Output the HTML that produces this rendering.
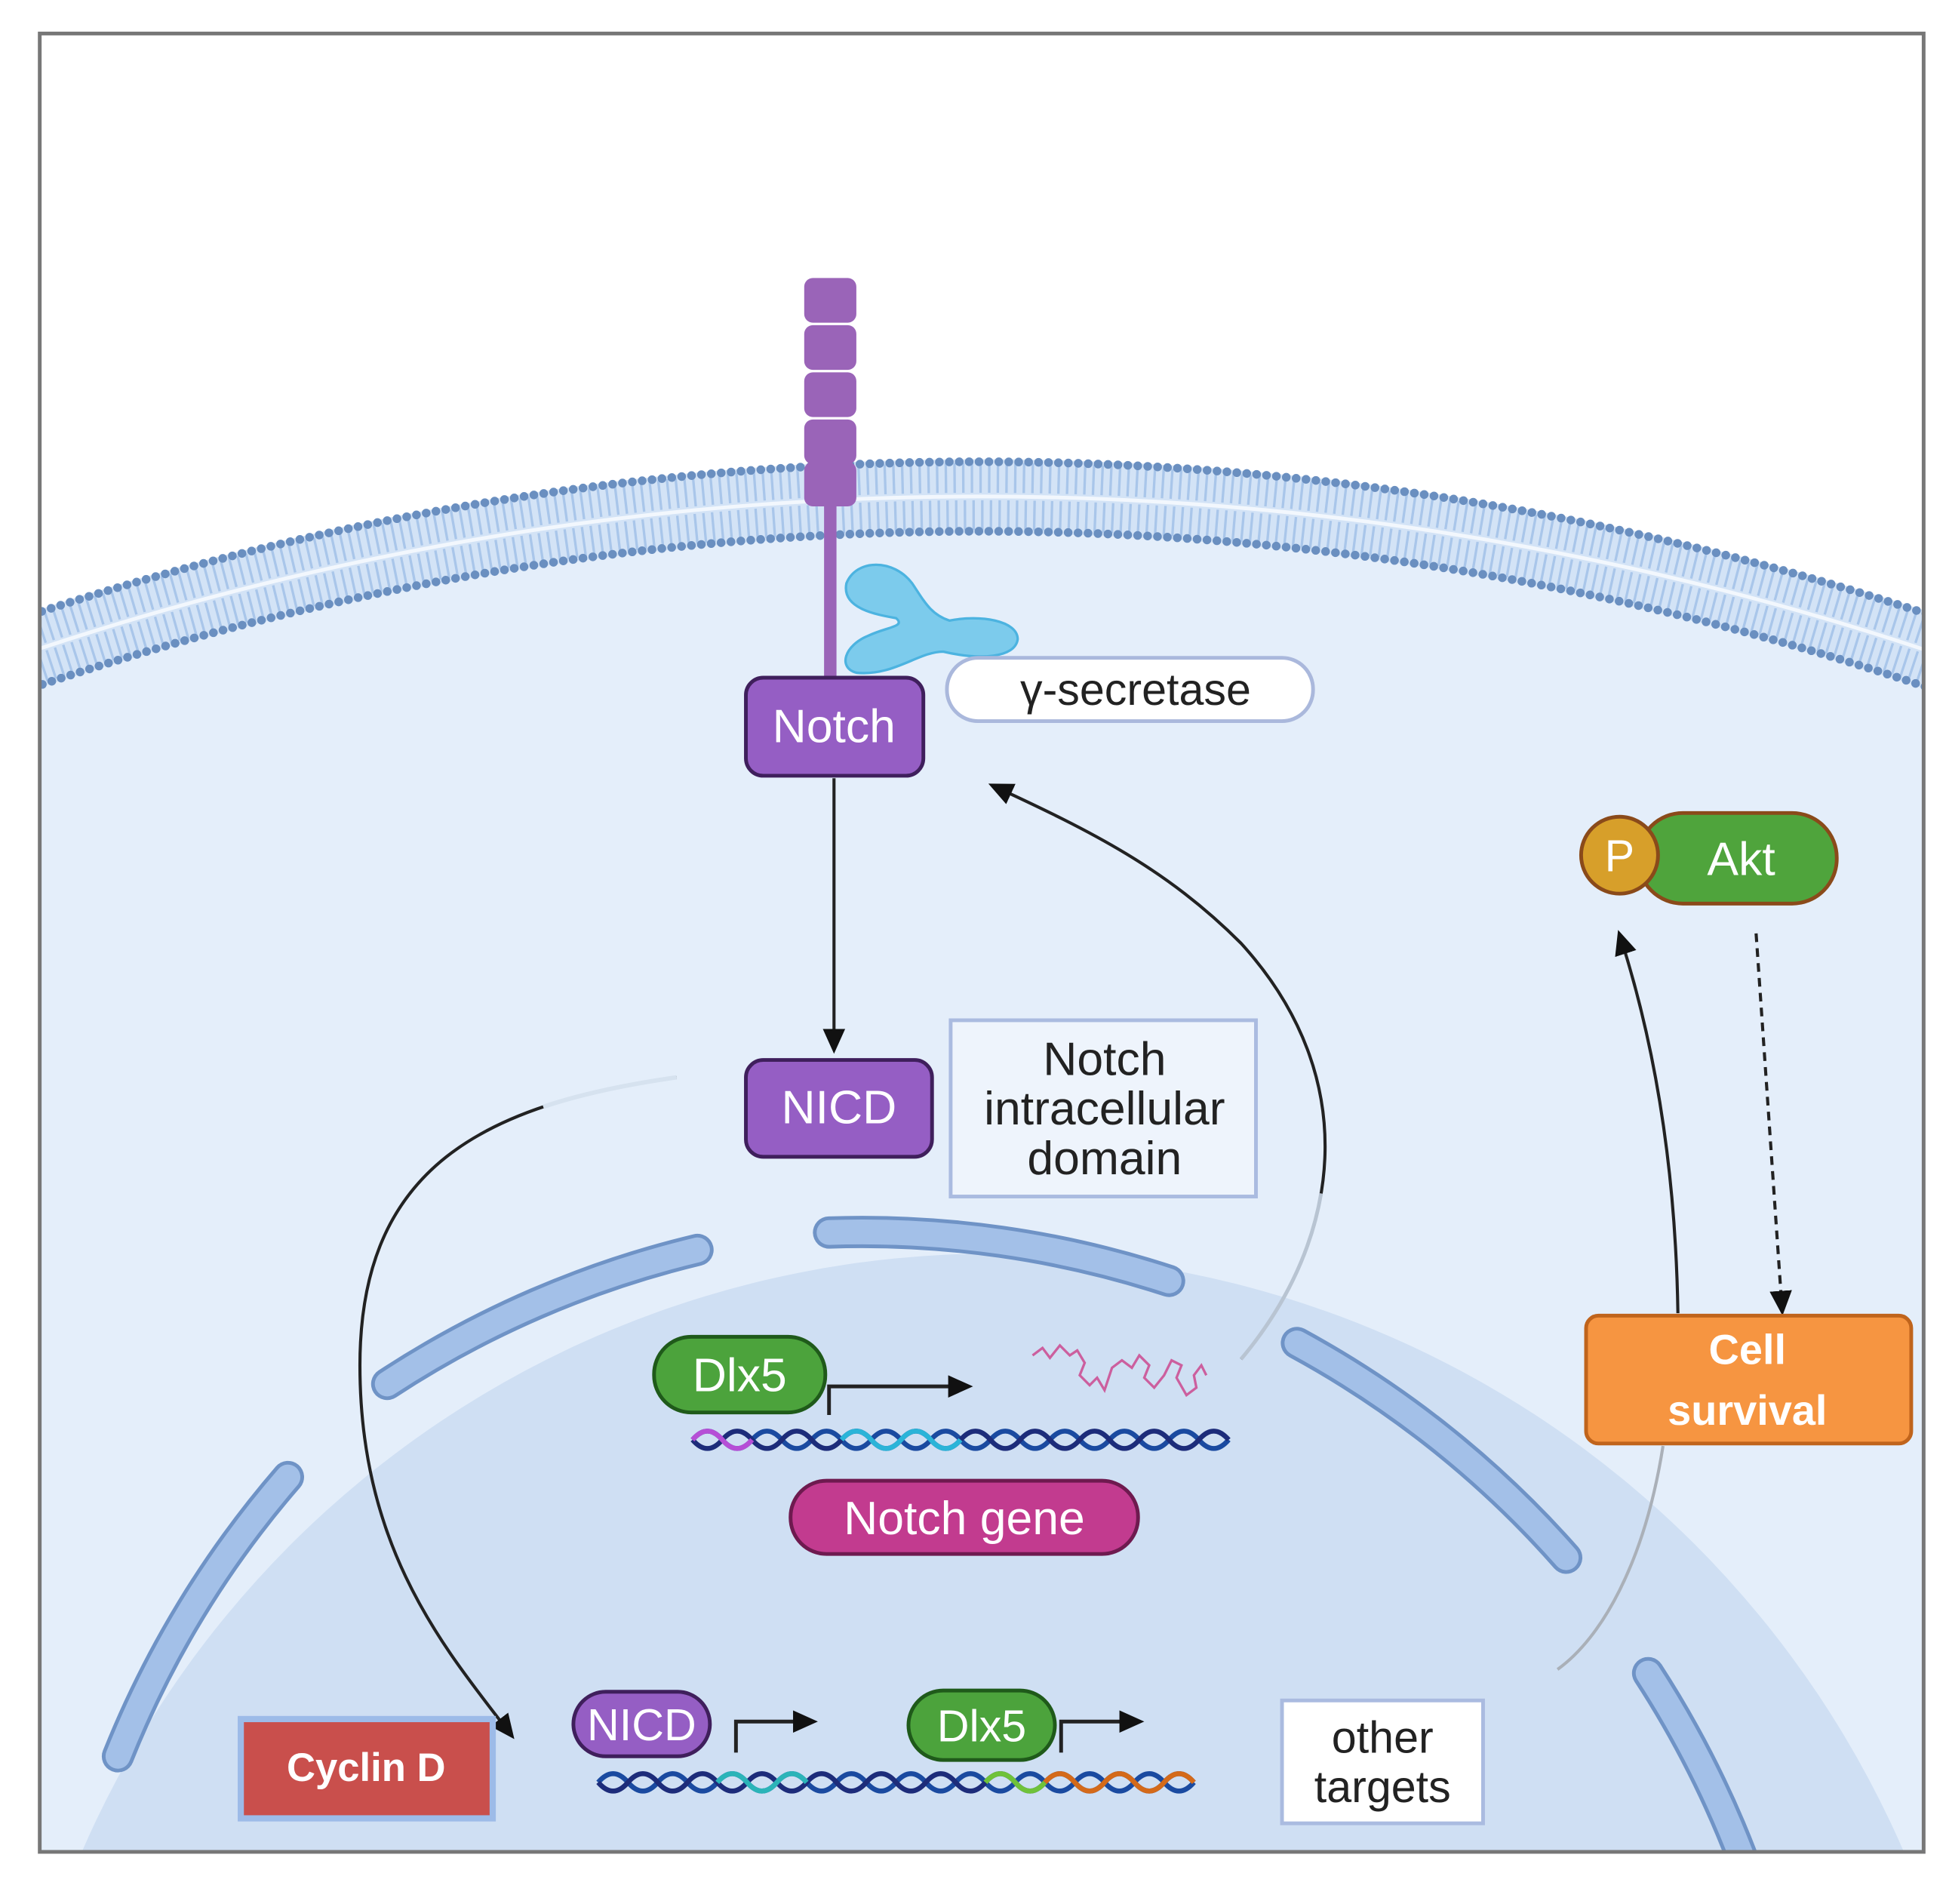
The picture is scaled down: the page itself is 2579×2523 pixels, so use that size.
<!DOCTYPE html>
<html><head><style>html,body{margin:0;padding:0;background:#fff;overflow:hidden;width:2579px;height:2523px}svg{display:block}</style></head><body>
<svg width="2579" height="2523" viewBox="0 0 1568 1534" xmlns="http://www.w3.org/2000/svg" font-family="Liberation Sans, sans-serif">
<defs>
<clipPath id="fr"><rect x="33" y="28" width="1516" height="1463"/></clipPath>
<marker id="ah2" markerWidth="20" markerHeight="18" refX="16" refY="9" orient="auto" markerUnits="userSpaceOnUse"><path d="M0,0 L20,9 L0,18 Z" fill="#111"/></marker>
</defs>
<rect x="0" y="0" width="1568" height="1534" fill="#fff"/>
<g clip-path="url(#fr)">
<circle cx="790" cy="2805" r="2375" fill="#e4eefa"/>
<circle cx="790" cy="2805" r="2405" fill="none" stroke="#d3e3f6" stroke-width="60"/>
<circle cx="790" cy="2805" r="2420" fill="none" stroke="#a9c6ea" stroke-width="24" stroke-dasharray="2 5"/>
<circle cx="790" cy="2805" r="2390" fill="none" stroke="#a9c6ea" stroke-width="24" stroke-dasharray="2 5"/>
<circle cx="790" cy="2805" r="2405" fill="none" stroke="#f2f7fd" stroke-width="3"/>
<circle cx="790" cy="2805" r="2433" fill="none" stroke="#6a8fc0" stroke-width="7" stroke-linecap="round" stroke-dasharray="0 8"/>
<circle cx="790" cy="2805" r="2377" fill="none" stroke="#6a8fc0" stroke-width="7" stroke-linecap="round" stroke-dasharray="0 8"/>
<circle cx="800" cy="1810" r="800" fill="#cfdff3"/>
<g fill="none" stroke-linecap="round">
<g stroke="#6f93c6" stroke-width="26">
<path d="M95,1415 A795,795 0 0 1 232,1190"/>
<path d="M312,1115 A795,795 0 0 1 562,1007"/>
<path d="M668,993 A795,795 0 0 1 942,1032"/>
<path d="M1045,1082 A795,795 0 0 1 1262,1255"/>
<path d="M1328,1348 A795,795 0 0 1 1405,1500"/>
</g>
<g stroke="#a3c0e8" stroke-width="20">
<path d="M95,1415 A795,795 0 0 1 232,1190"/>
<path d="M312,1115 A795,795 0 0 1 562,1007"/>
<path d="M668,993 A795,795 0 0 1 942,1032"/>
<path d="M1045,1082 A795,795 0 0 1 1262,1255"/>
<path d="M1328,1348 A795,795 0 0 1 1405,1500"/>
</g>
</g>
</g>
<rect x="32" y="27" width="1518" height="1465" fill="none" stroke="#777" stroke-width="3"/>
<rect x="664" y="395" width="10" height="155" fill="#9a64b8"/>
<g fill="#9a64b8">
<rect x="648" y="224" width="42" height="36" rx="7"/>
<rect x="648" y="262" width="42" height="36" rx="7"/>
<rect x="648" y="300" width="42" height="36" rx="7"/>
<rect x="648" y="338" width="42" height="36" rx="7"/>
<rect x="648" y="372" width="42" height="36" rx="7"/>
</g>
<path d="M682,470 C690,450 720,450 735,470 C745,485 750,495 765,500 C790,495 820,500 820,515 C818,530 790,532 760,525 C740,525 720,545 690,542 C675,538 680,520 700,512 C715,505 730,505 722,498 C705,495 678,490 682,470 Z" fill="#7ccbec" stroke="#4cb3e0" stroke-width="2"/>
<rect x="601" y="546" width="143" height="79" rx="14" fill="#955ec4" stroke="#3f1f5c" stroke-width="3"/>
<text x="672" y="598" font-size="38" fill="#fff" text-anchor="middle">Notch</text>
<rect x="763" y="530" width="295" height="51" rx="25" fill="#fff" stroke="#aab8dc" stroke-width="3"/>
<text x="915" y="568" font-size="36" fill="#222" text-anchor="middle">γ-secretase</text>
<line x1="672" y1="627" x2="672" y2="845" stroke="#222" stroke-width="2.5" marker-end="url(#ah2)"/>
<rect x="601" y="854" width="150" height="78" rx="14" fill="#955ec4" stroke="#3f1f5c" stroke-width="3"/>
<text x="676" y="905" font-size="38" fill="#fff" text-anchor="middle">NICD</text>
<rect x="766" y="822" width="246" height="142" fill="#eef4fc" stroke="#aabbe0" stroke-width="3"/>
<text font-size="38" fill="#222" text-anchor="middle"><tspan x="890" y="866">Notch</tspan><tspan x="890" y="906">intracellular</tspan><tspan x="890" y="946">domain</tspan></text>
<path d="M545,868 C390,890 290,940 290,1100 C290,1250 360,1330 412,1398" fill="none" stroke="#222" stroke-width="2.5" marker-end="url(#ah2)"/>
<path d="M545,868 C390,890 290,940 290,1100 C290,1250 360,1330 412,1398" fill="none" stroke="#d6e2ef" stroke-width="3.5" stroke-dasharray="110 3000"/>
<path d="M1000,1095 C1080,1000 1100,870 1000,760 C940,700 880,670 800,633" fill="none" stroke="#222" stroke-width="2.5" marker-end="url(#ah2)"/>
<path d="M1000,1095 C1080,1000 1100,870 1000,760 C940,700 880,670 800,633" fill="none" stroke="#b8c4d2" stroke-width="3" stroke-dasharray="150 3000"/>
<rect x="1320" y="655" width="160" height="73" rx="36" fill="#4fa43c" stroke="#8a4a1a" stroke-width="3"/>
<text x="1403" y="705" font-size="38" fill="#fff" text-anchor="middle">Akt</text>
<circle cx="1305" cy="689" r="31" fill="#d79f2a" stroke="#8a4a1a" stroke-width="3"/>
<text x="1305" y="702" font-size="36" fill="#fff" text-anchor="middle">P</text>
<line x1="1415" y1="752" x2="1436" y2="1056" stroke="#222" stroke-width="2.5" stroke-dasharray="7 5" marker-end="url(#ah2)"/>
<path d="M1352,1058 C1350,930 1330,830 1305,753" fill="none" stroke="#222" stroke-width="2.5" marker-end="url(#ah2)"/>
<rect x="1278" y="1060" width="262" height="103" rx="10" fill="#f69541" stroke="#c0641c" stroke-width="3"/>
<text font-size="34" font-weight="bold" fill="#fff" text-anchor="middle"><tspan x="1408" y="1099">Cell</tspan><tspan x="1408" y="1148">survival</tspan></text>
<path d="M1340,1165 C1325,1260 1290,1320 1255,1345" fill="none" stroke="#aab0b8" stroke-width="2.5"/>
<path d="M668,1140 L668,1117 L780,1117" fill="none" stroke="#222" stroke-width="3" marker-end="url(#ah2)"/>
<rect x="527" y="1077" width="138" height="61" rx="30" fill="#4ca33c" stroke="#1f5a1a" stroke-width="3"/>
<text x="596" y="1121" font-size="38" fill="#fff" text-anchor="middle">Dlx5</text>
<path d="M832,1092 l8,-6 l6,8 l8,-10 l8,8 l6,-4 l6,10 l-4,10 l8,8 l6,-6 l6,10 l6,-18 l8,-6 l8,6 l6,-10 l8,8 l-4,10 l8,8 l8,-10 l6,-12 l8,4 l-4,10 l8,14 l8,-6 l-2,-10 l6,-8 l4,8" fill="none" stroke="#cc5f9e" stroke-width="2"/>
<g fill="none" stroke-width="4">
<path d="M558,1160 q12,-14 24,0 t24,0 t24,0 t24,0 t24,0 t24,0 t24,0 t24,0 t24,0 t24,0 t24,0 t24,0 t24,0 t24,0 t24,0 t24,0 t24,0 t24,0" stroke="#1a4aa0"/>
<path d="M558,1160 q12,14 24,0 t24,0 t24,0 t24,0 t24,0 t24,0 t24,0 t24,0 t24,0 t24,0 t24,0 t24,0 t24,0 t24,0 t24,0 t24,0 t24,0 t24,0" stroke="#1d2c7a"/>
<path d="M558,1160 q12,-14 24,0 t24,0" stroke="#b64fd6"/>
<path d="M678,1160 q12,-14 24,0 t24,0 t24,0 t24,0" stroke="#2bb4d8"/>
</g>
<rect x="637" y="1193" width="280" height="59" rx="29" fill="#c23b8f" stroke="#6e1a4f" stroke-width="3"/>
<text x="777" y="1236" font-size="38" fill="#fff" text-anchor="middle">Notch gene</text>
<rect x="194" y="1385" width="203" height="80" fill="#c94f4c" stroke="#9dbbe8" stroke-width="5"/>
<text x="295" y="1435" font-size="32" font-weight="bold" fill="#fff" text-anchor="middle">Cyclin D</text>
<path d="M593,1412 L593,1387 L655,1387" fill="none" stroke="#222" stroke-width="3" marker-end="url(#ah2)"/>
<path d="M855,1412 L855,1387 L918,1387" fill="none" stroke="#222" stroke-width="3" marker-end="url(#ah2)"/>
<g fill="none" stroke-width="4">
<path d="M482,1436 q12,-14 24,0 t24,0 t24,0 t24,0 t24,0 t24,0 t24,0 t24,0 t24,0 t24,0 t24,0 t24,0 t24,0 t24,0 t24,0 t24,0 t24,0 t24,0 t24,0 t24,0" stroke="#1a4aa0"/>
<path d="M482,1436 q12,14 24,0 t24,0 t24,0 t24,0 t24,0 t24,0 t24,0 t24,0 t24,0 t24,0 t24,0 t24,0 t24,0 t24,0 t24,0 t24,0 t24,0 t24,0 t24,0 t24,0" stroke="#1d2c7a"/>
<path d="M578,1436 q12,-14 24,0 t24,0 t24,0" stroke="#2bb4b8"/>
<path d="M794,1436 q12,-14 24,0 t24,0" stroke="#6fc23a"/>
<path d="M842,1436 q12,-14 24,0 t24,0 t24,0 t24,0 t24,0" stroke="#d46a1a"/>
</g>
<rect x="462" y="1363" width="110" height="52" rx="26" fill="#955ec4" stroke="#3f1f5c" stroke-width="3"/>
<text x="517" y="1402" font-size="36" fill="#fff" text-anchor="middle">NICD</text>
<rect x="732" y="1362" width="118" height="56" rx="28" fill="#4ca33c" stroke="#1f5a1a" stroke-width="3"/>
<text x="791" y="1403" font-size="36" fill="#fff" text-anchor="middle">Dlx5</text>
<rect x="1033" y="1370" width="162" height="99" fill="#fff" stroke="#aabbe0" stroke-width="3"/>
<text font-size="36" fill="#222" text-anchor="middle"><tspan x="1114" y="1412">other</tspan><tspan x="1114" y="1452">targets</tspan></text>
</svg>
</body></html>
